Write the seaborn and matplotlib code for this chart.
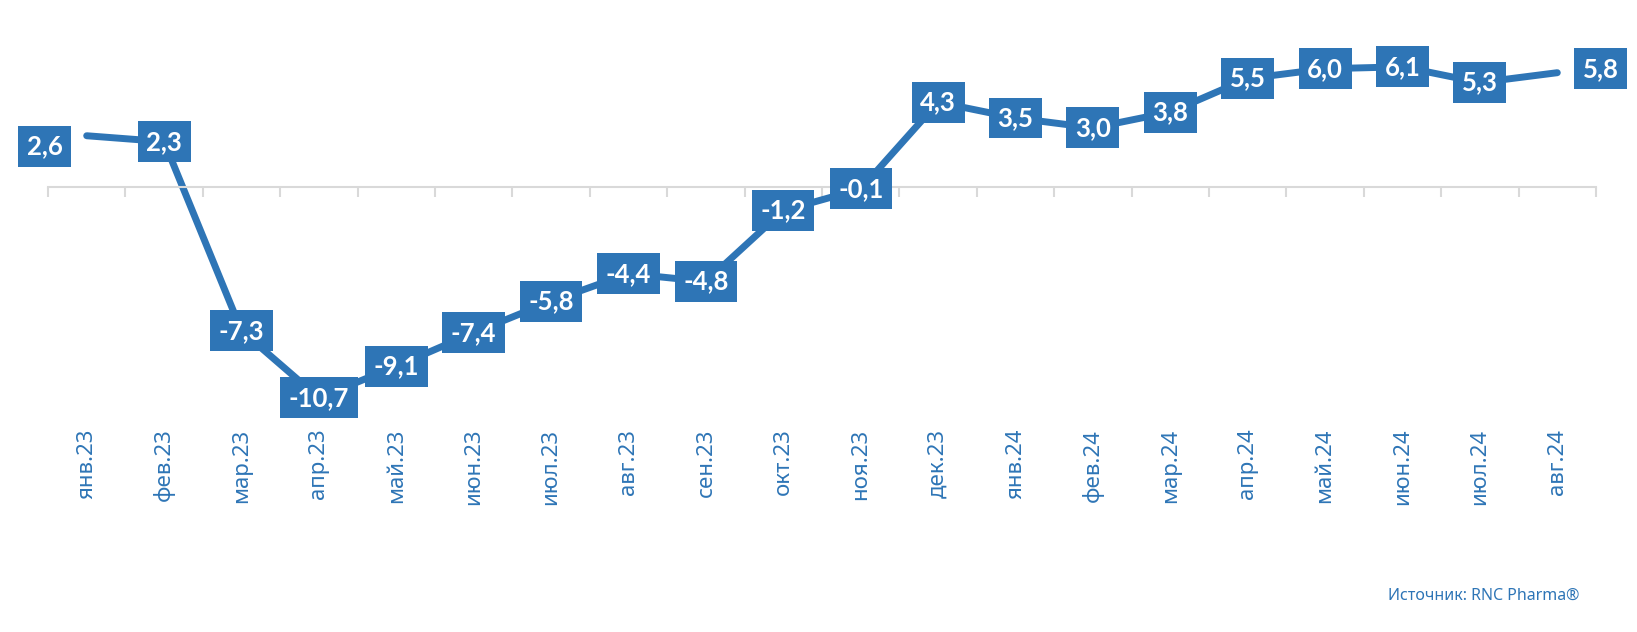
import matplotlib
matplotlib.use("Agg")
import matplotlib.pyplot as plt
import seaborn as sns
import pandas as pd

# данные
months = ["янв.23", "фев.23", "мар.23", "апр.23", "май.23", "июн.23", "июл.23",
          "авг.23", "сен.23", "окт.23", "ноя.23", "дек.23", "янв.24", "фев.24",
          "мар.24", "апр.24", "май.24", "июн.24", "июл.24", "авг.24"]
values = [2.6, 2.3, -7.3, -10.7, -9.1, -7.4, -5.8, -4.4, -4.8, -1.2, -0.1,
          4.3, 3.5, 3.0, 3.8, 5.5, 6.0, 6.1, 5.3, 5.8]
source_text = "Источник: RNC Pharma®"

BLUE = "#2E75B6"
GRID = "#d9d9d9"

sns.set_theme(style="white")
plt.rcParams['font.family'] = ['Noto Sans', 'DejaVu Sans']

df = pd.DataFrame({"x": range(len(months)), "y": values})

fig = plt.figure(figsize=(16.37, 6.32), dpi=100)
ax = fig.add_axes([48 / 1637, 1 - 423 / 632, 1548 / 1637, 423 / 632])

sns.lineplot(data=df, x="x", y="y", sort=False, color=BLUE, linewidth=5,
             solid_capstyle="round", solid_joinstyle="round", ax=ax, zorder=2)

# подписи значений (смещения только для крайних точек)
offsets = {0: (-0.54, -0.55), len(values) - 1: (0.56, 0.2)}
for i, v in enumerate(values):
    dx, dy = offsets.get(i, (0, 0))
    ax.text(i + dx, v + dy, f"{v:.1f}".replace(".", ","), ha="center", va="center",
            color="white", fontsize=18.5, fontweight="bold",
            family=['Lato', 'DejaVu Sans'], zorder=3,
            bbox=dict(boxstyle="square,pad=0.33", fc=BLUE, ec="none"))

ax.set_xlim(-0.5, len(months) - 0.5)
ax.set_ylim(-11.98, 9.49)

for s in ["top", "left", "right"]:
    ax.spines[s].set_visible(False)
ax.spines["bottom"].set_position(("data", 0))
ax.spines["bottom"].set_color(GRID)
ax.spines["bottom"].set_linewidth(1.5)

ax.set_yticks([])
ax.set_xticks(range(len(months)))
ax.set_xticklabels(months, rotation=90, color=BLUE, fontsize=16)
ax.set_xticks([i - 0.5 for i in range(len(months) + 1)], minor=True)
ax.tick_params(axis="x", which="major", length=0, pad=174)
ax.tick_params(axis="x", which="minor", bottom=True, length=7, width=1.5,
               color=GRID, direction="out")
ax.set_xlabel("")
ax.set_ylabel("")

fig.text(1579 / 1637, 1 - 596 / 632, source_text, ha="right", va="center",
         color=BLUE, fontsize=11.5)

fig.savefig("out.png", dpi=100)
